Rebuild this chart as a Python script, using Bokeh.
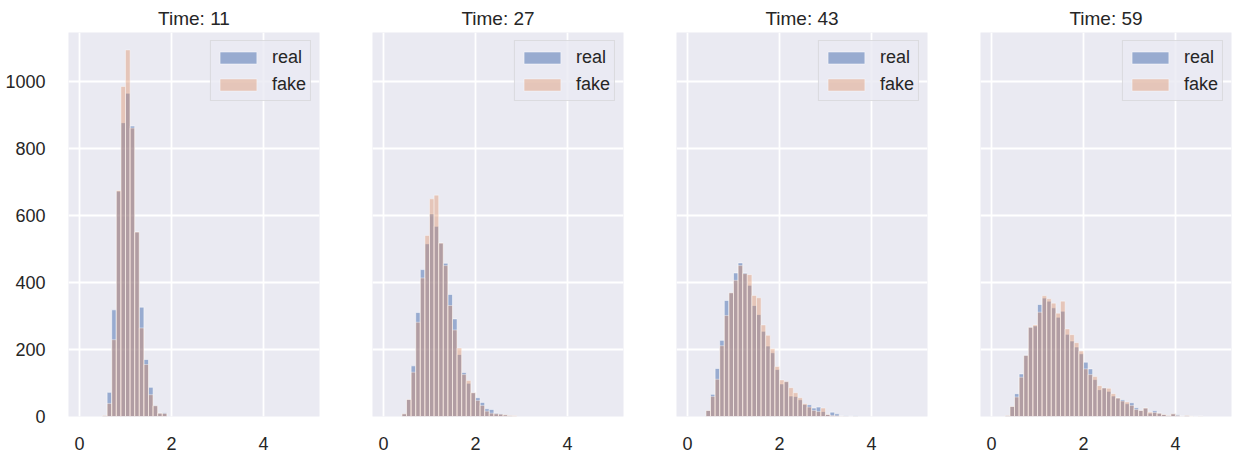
from bokeh.plotting import figure
from bokeh.layouts import row
from bokeh.models import Range1d, FixedTicker
from bokeh.embed import file_html
from bokeh.resources import INLINE

# ---------------- data (histogram counts, bin width 0.1) ----------------
bin_width = 0.1
times = [11, 27, 43, 59]
first_bin = [0.5, 0.4, 0.4, 0.3]

real_t11 = [3, 72, 318, 672, 876, 964, 866, 550, 326, 170, 87, 33, 10, 11]
fake_t11 = [3, 39, 229, 674, 984, 1093, 860, 550, 264, 155, 65, 32, 10, 9]

real_t27 = [8, 51, 151, 310, 438, 515, 604, 567, 517, 457, 364, 291, 185, 131,
            99, 71, 56, 42, 23, 21, 10, 8, 5, 2, 1]
fake_t27 = [8, 51, 132, 281, 413, 540, 649, 660, 517, 450, 331, 258, 204, 125,
            107, 71, 48, 33, 16, 10, 8, 7, 5, 3, 2]

real_t43 = [18, 66, 143, 227, 346, 369, 428, 458, 428, 391, 331, 304, 254, 210,
            190, 140, 97, 104, 61, 60, 50, 36, 35, 25, 28, 15, 6, 13, 8, 1, 2,
            1, 2]
fake_t43 = [18, 60, 111, 211, 301, 369, 406, 450, 426, 423, 361, 354, 273, 242,
            202, 149, 109, 104, 86, 71, 56, 38, 28, 18, 15, 25, 6, 3, 2, 1, 1,
            0, 1]

real_t59 = [3, 30, 68, 127, 183, 266, 270, 334, 353, 344, 324, 296, 314, 245,
            225, 207, 187, 162, 142, 110, 80, 86, 75, 61, 55, 50, 38, 41, 26,
            18, 25, 10, 17, 10, 6, 3, 8, 5, 1, 3, 0, 1, 1]
fake_t59 = [3, 30, 58, 117, 182, 266, 273, 311, 360, 351, 338, 308, 344, 261,
            244, 220, 195, 142, 125, 119, 92, 85, 84, 68, 55, 46, 43, 33, 21,
            18, 25, 13, 12, 10, 6, 3, 8, 3, 1, 3, 1, 0, 1]

real_series = [real_t11, real_t27, real_t43, real_t59]
fake_series = [fake_t11, fake_t27, fake_t43, fake_t59]

x_ticks = [0, 2, 4]
y_ticks = [0, 200, 400, 600, 800, 1000]

# ---------------- style ----------------
BG = "#EAEAF2"
TXT = "#262626"
FONT = "Liberation Sans"
BLUE = "#4C72B0"
ORANGE = "#DD8452"

FRAME_W = 251
borders = [(68, 27), (26, 27), (26, 27), (26, 2)]

figs = []
for i, t in enumerate(times):
    bl, br = borders[i]
    p = figure(width=bl + FRAME_W + br, height=455,
               x_range=Range1d(-0.24, 5.22), y_range=Range1d(0, 1145),
               output_backend="svg", toolbar_location=None,
               min_border_left=bl, min_border_right=br,
               min_border_top=32, min_border_bottom=39,
               title=f"Time: {t}")
    p.background_fill_color = BG
    p.border_fill_color = "white"
    p.outline_line_color = None

    p.title.text_font = FONT
    p.title.text_font_size = "19px"
    p.title.text_font_style = "normal"
    p.title.text_color = TXT
    p.title.align = "center"
    p.title.standoff = 8

    n = len(real_series[i])
    lefts = [first_bin[i] + k * bin_width for k in range(n)]
    rights = [l + bin_width for l in lefts]

    p.quad(left=lefts, right=rights, bottom=0, top=real_series[i],
           fill_color=BLUE, fill_alpha=0.52, line_color="white",
           line_alpha=0.5, line_width=1, legend_label="real")
    p.quad(left=lefts, right=rights, bottom=0, top=fake_series[i],
           fill_color=ORANGE, fill_alpha=0.36, line_color="white",
           line_alpha=0.4, line_width=1, legend_label="fake")

    p.xaxis.ticker = FixedTicker(ticks=x_ticks)
    p.yaxis.ticker = FixedTicker(ticks=y_ticks)
    for ax in (p.xaxis[0], p.yaxis[0]):
        ax.axis_line_color = None
        ax.major_tick_line_color = None
        ax.minor_tick_line_color = None
        ax.major_label_text_font = FONT
        ax.major_label_text_font_size = "18px"
        ax.major_label_text_color = TXT
    p.xaxis.major_label_standoff = 14
    p.yaxis.major_label_standoff = 17
    if i > 0:
        p.yaxis.visible = False

    p.xgrid.grid_line_color = "white"
    p.ygrid.grid_line_color = "white"
    p.xgrid.grid_line_width = 1.8
    p.ygrid.grid_line_width = 1.8

    lg = p.legend[0]
    lg.location = "top_right"
    lg.margin = 8
    lg.padding = 4
    lg.spacing = 3
    lg.glyph_width = 46
    lg.glyph_height = 15
    lg.label_height = 24
    lg.label_standoff = 11
    lg.label_text_font = FONT
    lg.label_text_font_size = "18px"
    lg.label_text_color = TXT
    lg.border_line_color = "#cccccc"
    lg.border_line_width = 1
    lg.background_fill_color = BG
    lg.background_fill_alpha = 0.8

    figs.append(p)

layout = row(*figs, spacing=0)
open("out.html", "w").write(file_html(layout, INLINE))
